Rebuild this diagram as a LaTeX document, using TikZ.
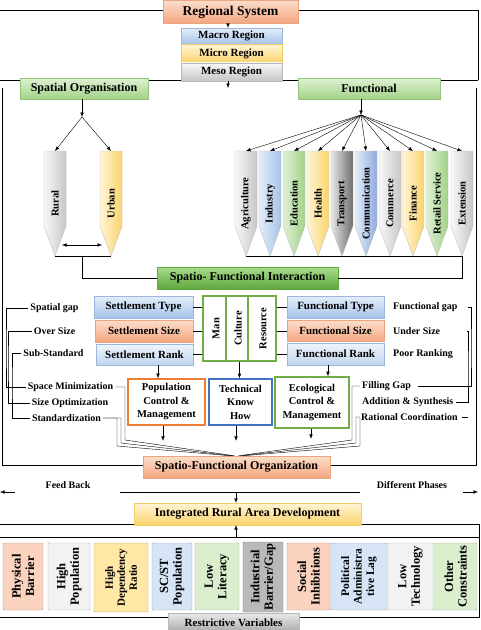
\documentclass[tikz,border=0pt]{standalone}
\usepackage{fontspec}
\setmainfont{Liberation Serif}
\usetikzlibrary{positioning,arrows.meta,shadows}

\definecolor{peachT}{HTML}{FCDDCB}
\definecolor{peachB}{HTML}{F4A680}
\definecolor{peachL}{HTML}{E9A580}
\definecolor{blueT}{HTML}{E4EEF9}
\definecolor{blueB}{HTML}{A7C3E8}
\definecolor{blueL}{HTML}{9DB7DC}
\definecolor{yellowT}{HTML}{FFF5D6}
\definecolor{yellowB}{HTML}{FAD36C}
\definecolor{yellowL}{HTML}{EFCB6A}
\definecolor{grayT}{HTML}{F8F8F8}
\definecolor{grayB}{HTML}{C6C6C6}
\definecolor{grayL}{HTML}{B8B8B8}
\definecolor{greenT}{HTML}{DFF1D4}
\definecolor{greenB}{HTML}{A2D287}
\definecolor{greenL}{HTML}{93C479}
\definecolor{sfiT}{HTML}{A9DB8C}
\definecolor{sfiB}{HTML}{5EA83D}
\definecolor{darkT}{HTML}{E6E6E6}
\definecolor{darkB}{HTML}{6E6E6E}
\definecolor{commB}{HTML}{8FAADC}
\definecolor{popL}{HTML}{ED7D31}
\definecolor{techL}{HTML}{4472C4}
\definecolor{ecoL}{HTML}{70AD47}
\definecolor{rPeach}{HTML}{FBD3BE}
\definecolor{rGray}{HTML}{F2F2F2}
\definecolor{rYellow}{HTML}{FFE7A6}
\definecolor{rBlue}{HTML}{D6E4F5}
\definecolor{rGreen}{HTML}{DAEECE}
\definecolor{rDark}{HTML}{B9B9B9}

% pencil: name, x, left colour, right colour, label
\newcommand{\pencil}[5]{%
  \path[draw=black!25, left color=#3, right color=#4]
    (#2-11,151) -- (#2+11,151) -- (#2+11,226) -- (#2,256) -- (#2-11,226) -- cycle;
  \node[penlabel] (#1) at (#2,203.5) {#5};
  \coordinate (#1-top) at (#2,151);
  \coordinate (#1-tip) at (#2,256);
}

\begin{document}
\begin{tikzpicture}
  [x=1pt,y=-1pt,
   arr/.style={-{Latex[length=4.5pt,width=3.5pt]}},
   box/.style={draw, inner sep=0pt, font=\bfseries\fontsize{11}{13}\selectfont,
     drop shadow={opacity=.25,shadow xshift=.8pt,shadow yshift=-.8pt}},
   peach/.style={box, draw=peachL, top color=peachT, bottom color=peachB},
   bluebox/.style={box, draw=blueL, top color=blueT, bottom color=blueB},
   yellowbox/.style={box, draw=yellowL, top color=yellowT, bottom color=yellowB},
   graybox/.style={box, draw=grayL, top color=grayT, bottom color=grayB},
   greenbox/.style={box, draw=greenL, top color=greenT, bottom color=greenB},
   ctrl/.style={draw=#1, line width=1.6pt, fill=white, align=center, inner sep=1pt,
     font=\bfseries\fontsize{10.5}{13.5}\selectfont},
   penlabel/.style={rotate=90, inner sep=0pt, font=\bfseries\fontsize{10.5}{12}\selectfont},
   mcrlabel/.style={rotate=90, inner sep=0pt, font=\bfseries\fontsize{10.5}{12}\selectfont},
   lbl/.style={inner sep=2pt, font=\bfseries\fontsize{10}{12}\selectfont},
   rvar/.style={draw=#1!75!black, fill=#1, rotate=90, align=center, inner sep=0pt,
     rounded corners=1pt, minimum width=67pt, font=\bfseries\fontsize{12.5}{13.5}\selectfont}]
  \useasboundingbox (0,0) rectangle (481,630);

  % frames
  \draw (0,10) -- (163,10);
  \draw (298,10) -- (478,10) -- (478,80);
  \draw (0,80) -- (478,80);
  \draw (2,88) -- (2,465) -- (143,465);
  \draw (330,465) -- (476,465) -- (476,88);
  \draw (0,524) -- (479,524) -- (479,617) -- (0,617);
  \draw (0,537) -- (479,537);

  % regions
  \node[peach, minimum width=135pt, minimum height=23pt,
        font=\bfseries\fontsize{13.5}{15}\selectfont] (regsys) at (230.5,12) {Regional System};
  \node[bluebox, minimum width=101pt, minimum height=16pt] (macro) at (231.5,36) {Macro Region};
  \node[yellowbox, minimum width=101pt, minimum height=18pt, below=0pt of macro] (micro) {Micro Region};
  \node[graybox, minimum width=101pt, minimum height=18pt, below=0pt of micro] (meso) {Meso Region};
  \draw[arr] (regsys.south -| 228,0) -- (macro.north -| 228,0);
  \coordinate (mesoout) at (228,88);
  \draw[arr] (mesoout |- meso.south) -- (mesoout);

  \node[greenbox, minimum width=128pt, minimum height=21pt,
        font=\bfseries\fontsize{12}{14}\selectfont] (sporg) at (84,88.5) {Spatial Organisation};
  \node[greenbox, minimum width=142pt, minimum height=21pt,
        font=\bfseries\fontsize{12}{14}\selectfont] (func) at (369,88.5) {Functional};

  % pencils
  \pencil{rural}{55}{grayT}{grayB}{Rural}
  \pencil{urban}{111}{yellowT}{yellowB}{Urban}
  \pencil{agri}{246}{grayT}{grayB}{Agriculture}
  \pencil{indu}{270}{blueT}{blueB}{Industry}
  \pencil{educ}{294}{greenT}{greenB}{Education}
  \pencil{heal}{318}{yellowT}{yellowB}{Health}
  \pencil{tran}{342}{darkT}{darkB}{Transport}
  \pencil{comm}{366}{blueT}{commB}{Communication}
  \pencil{cmrc}{390}{grayT}{grayB}{Commerce}
  \pencil{fina}{413}{yellowT}{yellowB}{Finance}
  \pencil{reta}{437}{greenT}{greenB}{Retail Service}
  \pencil{exte}{462}{grayT}{grayB}{Extension}

  \coordinate (spsplit) at (82,117);
  \draw[arr] (spsplit |- sporg.south) -- (spsplit);
  \draw[arr] (spsplit) -- (rural-top);
  \draw[arr] (spsplit) -- (urban-top);
  \coordinate (fnsplit) at (361,115);
  \draw[arr] (fnsplit |- func.south) -- (fnsplit);
  \foreach \p in {agri,indu,educ,heal,tran,comm,cmrc,fina,reta,exte}
    \draw[arr] (fnsplit) -- (\p-top);

  \coordinate (ru-l) at (62,245);
  \coordinate (ru-r) at (102,245);
  \draw[{Latex[length=4.5pt,width=3.5pt]}-{Latex[length=4.5pt,width=3.5pt]}] (ru-l) -- (ru-r);

  % interaction
  \node[box, draw=sfiB, top color=sfiT, bottom color=sfiB, minimum width=181pt, minimum height=22pt,
        font=\bfseries\fontsize{12}{14}\selectfont] (sfi) at (247.5,278) {Spatio- Functional Interaction};
  \coordinate (sptie) at (82,256);
  \draw (rural-tip) -- (urban-tip);
  \draw (sptie) |- (sfi.west);
  \draw (agri-tip) -- (exte-tip) |- (sfi.east);

  \node[bluebox, minimum width=99pt, minimum height=22pt] (settype) at (143.5,307) {Settlement Type};
  \node[peach, minimum width=98pt, minimum height=22pt] (setsize) at (144,331) {Settlement Size};
  \node[bluebox, top color=blueT!60!white, bottom color=blueB!70!white,
        minimum width=97pt, minimum height=21pt] (setrank) at (144.5,354.5) {Settlement Rank};
  \node[bluebox, minimum width=97pt, minimum height=22pt] (ftype) at (335.5,307) {Functional Type};
  \node[peach, minimum width=97pt, minimum height=21pt] (fsize) at (335.5,331) {Functional Size};
  \node[bluebox, top color=blueT!60!white, bottom color=blueB!70!white,
        minimum width=97pt, minimum height=22pt] (frank) at (335.5,354) {Functional Rank};

  \node[draw=ecoL, line width=1.5pt, minimum width=73pt, minimum height=65pt, inner sep=0pt] (block) at (239.5,328.5) {};
  \draw[ecoL, line width=1.5pt] ([xshift=-13.5pt]block.north) -- ([xshift=-13.5pt]block.south);
  \draw[ecoL, line width=1.5pt] ([xshift=8.5pt]block.north) -- ([xshift=8.5pt]block.south);
  \node[mcrlabel] (man) at (216,328.5) {Man};
  \node[mcrlabel] (culture) at (238,328.5) {Culture};
  \node[mcrlabel] (resource) at (263,328.5) {Resource};

  \foreach \s in {settype,setsize,setrank}
    \draw (\s.east) -- (\s.east -| block.west);
  \foreach \f in {ftype,fsize,frank}
    \draw (\f.west) -- (\f.west -| block.east);

  % controls
  \node[ctrl=popL, minimum width=77pt, minimum height=46pt] (pop) at (166.5,402) {Population\\Control \&\\Management};
  \node[ctrl=techL, minimum width=63pt, minimum height=46pt] (tech) at (240.5,402) {Technical\\Know\\How};
  \node[ctrl=ecoL, minimum width=74pt, minimum height=51pt] (eco) at (312,402.5) {Ecological\\Control \&\\Management};

  \coordinate (poparr) at (158,365);
  \coordinate (ecoarr) at (328,365);
  \draw[arr] (poparr) -- (poparr |- pop.north);
  \draw[arr] (block.south) -- (block.south |- tech.north);
  \draw[arr] (ecoarr) -- (ecoarr |- eco.north);
  \draw[arr] ([xshift=-3.5pt]pop.south) -- ++(0,15);
  \draw[arr] ([xshift=-4.5pt]tech.south) -- ++(0,15);
  \draw[arr] ([xshift=-1pt]eco.south) -- ++(0,10);

  % side labels
  \node[lbl] (spgap) at (54.5,308) {Spatial gap};
  \node[lbl] (ovsize) at (54.5,331) {Over Size};
  \node[lbl] (substd) at (53.5,353) {Sub-Standard};
  \node[lbl] (spmin) at (70.5,387) {Space Minimization};
  \node[lbl] (sizeopt) at (70,403) {Size Optimization};
  \node[lbl] (stdz) at (66.5,418) {Standardization};
  \node[lbl, anchor=west] (fgap) at (391,307) {Functional gap};
  \node[lbl, anchor=west] (usize) at (391,331) {Under Size};
  \node[lbl, anchor=west] (prank) at (391,354) {Poor Ranking};
  \node[lbl, anchor=west] (fill) at (360,386) {Filling Gap};
  \node[lbl, anchor=west] (addsyn) at (360,402) {Addition \& Synthesis};
  \node[lbl, anchor=west] (ratco) at (359,417) {Rational Coordination};

  \draw (spgap.west) -| (6,350) |- (spmin.west);
  \draw (ovsize.west) -| (8,360) |- (sizeopt.west);
  \draw (substd.west) -| (12,380) |- (stdz.west);
  \draw ([xshift=8pt]fgap.east) -| (471,350) |- ([xshift=5pt]fill.east);
  \draw ([xshift=25pt]usize.east) -| (468,370) |- (addsyn.east);
  \draw ([xshift=2pt]ratco.east) -- ++(6,0);

  % organization
  \node[peach, minimum width=187pt, minimum height=22pt,
        font=\bfseries\fontsize{12}{14}\selectfont] (sfo) at (236.5,467) {Spatio-Functional Organization};
  \draw (stdz.east) -| (117,446) -- ([xshift=-6pt]sfo.north);
  \draw (stdz.east) -| (121,443) -- ([xshift=-4pt]sfo.north);
  \draw (spmin.east) -| (125,440) -- ([xshift=-2pt]sfo.north);
  \draw (fill.west) -| (352,440) -- ([xshift=2pt]sfo.north);
  \draw (ratco.west) -| (356,443) -- ([xshift=4pt]sfo.north);
  \draw (ratco.west) -| (360,446) -- ([xshift=6pt]sfo.north);

  % development
  \node[lbl] (feed) at (68,485) {Feed Back};
  \node[lbl] (phases) at (412,485) {Different Phases};
  \node[yellowbox, minimum width=227pt, minimum height=22pt,
        font=\bfseries\fontsize{12}{14}\selectfont] (irad) at (247.5,514) {Integrated Rural Area Development};
  \coordinate (fbl) at (15,492);
  \coordinate (fbend) at (0,492);
  \coordinate (fbr) at (463,492);
  \coordinate (phend) at (478,492);
  \coordinate (phl) at (120,492);
  \coordinate (phr) at (360,492);
  \coordinate (phm) at (236,492);
  \coordinate (rvtop) at (236,537);
  \draw[arr] (fbl) -- (fbend);
  \draw[arr] (fbr) -- (phend);
  \draw (phl) -- (phr);
  \draw[arr] (phm) -- (phm |- irad.north);
  \draw[arr] (rvtop) -- (rvtop |- irad.south);

  % restrictive variables
  \node[rvar=rPeach, minimum height=40pt] (physical) at (23,576.5) {Physical\\Barrier};
  \node[rvar=rGray, minimum height=42pt] (highpop) at (69,576.5) {High\\Population};
  \node[rvar=rYellow, minimum height=54pt, minimum width=69pt,
        font=\bfseries\fontsize{11}{12}\selectfont] (highdep) at (121,577.5) {High\\Dependency\\Ratio};
  \node[rvar=rBlue, minimum height=40pt] (scst) at (172,576.5) {SC/ST\\Population};
  \node[rvar=rGreen, minimum height=44pt] (lowlit) at (217,576.5) {Low\\Literacy};
  \node[rvar=rDark, minimum height=40pt, minimum width=70pt,
        font=\bfseries\fontsize{12.5}{13.5}\selectfont] (indus) at (263,577) {Industrial\\Barrier/Gap};
  \node[rvar=rPeach, minimum height=43pt] (social) at (308.5,576.5) {Social\\Inhibitions};
  \node[rvar=rBlue, minimum height=56pt,
        font=\bfseries\fontsize{11.5}{12.5}\selectfont] (polit) at (359,576.5) {Political\\Administra\\tive Lag};
  \node[rvar=rGray, minimum height=45pt] (lowtech) at (410.5,576.5) {Low\\Technology};
  \node[rvar=rGreen, minimum height=43pt] (other) at (455.5,576.5) {Other\\Constraints};

  \node[box, draw=grayL, top color=grayT!70!grayB, bottom color=darkB!60!white, minimum width=131pt,
        minimum height=20pt] (restr) at (233.5,623) {Restrictive Variables};
\end{tikzpicture}
\end{document}
